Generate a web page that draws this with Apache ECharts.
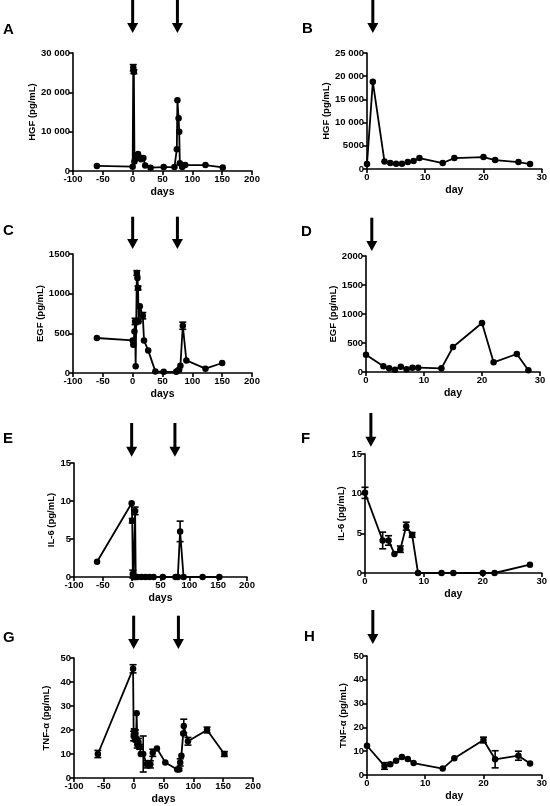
<!DOCTYPE html>
<html><head><meta charset="utf-8">
<script src="https://cdn.jsdelivr.net/npm/echarts@6/dist/echarts.min.js"></script>
<style>html,body{margin:0;padding:0;background:#fff}#c{width:550px;height:806px}</style>
</head><body><div id="c"></div>
<script>
// ---- Data ----
const daysA  = [-60, 0, 1, 2, 3, 5, 7, 9, 11, 14, 18, 21, 30, 52, 70, 74, 75, 77, 78, 79, 83, 88, 122, 151];
const hgfA   = [1300, 1100, 26250, 25250, 2400, 3200, 4000, 4300, 3500, 3000, 3300, 1400, 850, 1000, 1000, 5500, 18000, 13400, 10000, 2000, 1000, 1500, 1500, 900];
const hgfErrA= [0, 0, 800, 500, 0, 0, 0, 0, 0, 0, 0, 0, 0, 0, 0, 0, 0, 0, 0, 0, 0, 0, 0, 0];

const dayB   = [0, 1, 3, 4, 5, 6, 7, 8, 9, 13, 15, 20, 22, 26, 28];
const hgfB   = [1070, 18800, 1640, 1290, 1140, 1140, 1500, 1710, 2360, 1290, 2360, 2570, 1930, 1500, 1070];

const daysC  = [-60, 0, 1, 3, 4, 5, 7, 8, 9, 10, 12, 17, 19, 26, 38, 52, 73, 76, 78, 80, 84, 90, 122, 150];
const egfC   = [441, 411, 357, 524, 650, 84, 1260, 1197, 1071, 650, 840, 722, 411, 285, 20, 15, 15, 33, 42, 92, 596, 159, 55, 126];
const egfErrC= [0, 0, 0, 0, 40, 0, 30, 0, 25, 0, 0, 40, 0, 0, 0, 0, 0, 0, 0, 0, 45, 0, 0, 0];

const dayD   = [0, 3, 4, 5, 6, 7, 8, 9, 13, 15, 20, 22, 26, 28];
const egfD   = [299, 98, 63, 40, 92, 46, 75, 75, 63, 431, 845, 167, 310, 29];

const daysE  = [-60, 0, 1, 2, 3, 5, 6, 7, 10, 17, 24, 31, 38, 54, 76, 80, 84, 90, 123, 152];
const il6E   = [2, 9.7, 7.4, 0.4, 0, 0, 8.7, 0, 0, 0, 0, 0, 0, 0, 0, 0, 6, 0, 0, 0];
const il6ErrE= [0, 0, 0.3, 0.5, 0, 0, 0.5, 0, 0, 0, 0, 0, 0, 0, 0, 0, 1.35, 0, 0, 0];

const dayF   = [0, 3, 4, 5, 6, 7, 8, 9, 13, 15, 20, 22, 28];
const il6F   = [10.1, 4.1, 4.1, 2.4, 3.0, 5.9, 4.8, 0, 0, 0, 0, 0, 1.05];
const il6ErrF= [0.7, 1.05, 0.6, 0, 0.4, 0.5, 0.3, 0, 0, 0, 0, 0, 0];

const daysG  = [-60, -1, 0, 1, 2, 3, 4, 5, 6, 8, 10, 12, 16, 22, 28, 32, 39, 53, 73, 76, 78, 80, 83, 84, 91, 123, 152];
const tnfG   = [10, 45.5, 17.5, 19.5, 16.5, 18.5, 16, 27, 14, 15, 13, 10, 10, 5.7, 5.7, 10.5, 12.3, 6.5, 3.5, 3.5, 6.5, 9.3, 18.5, 21.7, 15.3, 20, 10];
const tnfErrG= [1.5, 1.7, 2, 1, 1, 1.5, 1, 0, 1.5, 1.5, 1, 0, 7.5, 1.5, 1.5, 1.5, 0, 0, 0, 0.5, 1.5, 0, 0, 2.8, 1.6, 1.2, 1];

const dayH   = [0, 3, 4, 5, 6, 7, 8, 13, 15, 20, 22, 26, 28];
const tnfH   = [12.3, 3.8, 4.5, 6, 7.6, 6.7, 5, 2.7, 7, 14.7, 6.6, 8.1, 4.8];
const tnfErrH= [0, 1.4, 0, 0, 0, 0, 0, 0, 0, 1.2, 3.6, 1.9, 0];

const arrowDaysLong  = [0, 75];
const arrowDaysShort = [1];

// ---- Panels ----
const panels = [
  {x: daysA, y: hgfA, e: hgfErrA, yName: 'HGF (pg/mL)', xName: 'days', xMin: -100, xMax: 200, xInt: 50, yMax: 30000, yInt: 10000, arrows: arrowDaysLong},
  {x: dayB,  y: hgfB, e: null,    yName: 'HGF (pg/mL)', xName: 'day',  xMin: 0, xMax: 30, xInt: 10, yMax: 25000, yInt: 5000, arrows: arrowDaysShort},
  {x: daysC, y: egfC, e: egfErrC, yName: 'EGF (pg/mL)', xName: 'days', xMin: -100, xMax: 200, xInt: 50, yMax: 1500, yInt: 500, arrows: arrowDaysLong},
  {x: dayD,  y: egfD, e: null,    yName: 'EGF (pg/mL)', xName: 'day',  xMin: 0, xMax: 30, xInt: 10, yMax: 2000, yInt: 500, arrows: arrowDaysShort},
  {x: daysE, y: il6E, e: il6ErrE, yName: 'IL-6 (pg/mL)', xName: 'days', xMin: -100, xMax: 200, xInt: 50, yMax: 15, yInt: 5, arrows: arrowDaysLong},
  {x: dayF,  y: il6F, e: il6ErrF, yName: 'IL-6 (pg/mL)', xName: 'day',  xMin: 0, xMax: 30, xInt: 10, yMax: 15, yInt: 5, arrows: arrowDaysShort},
  {x: daysG, y: tnfG, e: tnfErrG, yName: 'TNF-\u03b1 (pg/mL)', xName: 'days', xMin: -100, xMax: 200, xInt: 50, yMax: 50, yInt: 10, arrows: arrowDaysLong},
  {x: dayH,  y: tnfH, e: tnfErrH, yName: 'TNF-\u03b1 (pg/mL)', xName: 'day',  xMin: 0, xMax: 30, xInt: 10, yMax: 50, yInt: 10, arrows: arrowDaysShort}
];
const letters = ['A','B','C','D','E','F','G','H'];

// layout (pixels)
const layout = [
  {left:73,  top:53,  width:179, height:118, lx:3,   ly:30,  aTop:0,     aBot:33,    gapY:31},
  {left:367, top:53,  width:175, height:116, lx:302, ly:29,  aTop:0,     aBot:33,    gapY:33},
  {left:73,  top:254, width:179, height:119, lx:3,   ly:231, aTop:216.7, aBot:249,   gapY:23},
  {left:366, top:256, width:174, height:116, lx:301, ly:232, aTop:217.7, aBot:251,   gapY:27},
  {left:74,  top:463, width:173, height:114, lx:3,   ly:439, aTop:423,   aBot:456.7, gapY:14},
  {left:365, top:454, width:179, height:119, lx:301, ly:439, aTop:413,   aBot:446.7, gapY:19},
  {left:74,  top:658, width:179, height:120, lx:3,   ly:638, aTop:615.7, aBot:649,   gapY:23},
  {left:367, top:656, width:180, height:119, lx:304, ly:637, aTop:610,   aBot:644,   gapY:19}
];

const FONT = 'Arial, "Liberation Sans", Helvetica, sans-serif';
function fmtY(v){ return v >= 10000 ? String(v).replace(/(\d)(\d{3})$/, '$1 $2') : String(v); }

const grids = [], xAxes = [], yAxes = [], series = [];
panels.forEach((p, i) => {
  const L = layout[i];
  grids.push({left: L.left, top: L.top, width: L.width, height: L.height, containLabel: false});
  const axisCommon = {
    axisLine: {show: true, onZero: false, lineStyle: {color: '#000', width: 1.6}},
    axisTick: {show: true, inside: false, length: 4, lineStyle: {color: '#000', width: 1.6}},
    splitLine: {show: false},
    axisLabel: {color: '#000', fontSize: 9.5, fontWeight: 'bold', fontFamily: FONT, margin: 3, showMinLabel: true, showMaxLabel: true, hideOverlap: false},
    nameTextStyle: {color: '#000', fontWeight: 'bold', fontFamily: FONT}
  };
  xAxes.push(Object.assign({}, axisCommon, {
    type: 'value', gridIndex: i, min: p.xMin, max: p.xMax, interval: p.xInt,
    name: p.xName, nameLocation: 'middle', nameGap: 16,
    nameTextStyle: {color: '#000', fontWeight: 'bold', fontFamily: FONT, fontSize: 10.5}
  }));
  yAxes.push(Object.assign({}, axisCommon, {
    type: 'value', gridIndex: i, min: 0, max: p.yMax, interval: p.yInt,
    name: p.yName, nameLocation: 'middle', nameRotate: 90, nameGap: L.gapY,
    nameTextStyle: {color: '#000', fontWeight: 'bold', fontFamily: FONT, fontSize: 9.5},
    axisLabel: Object.assign({}, axisCommon.axisLabel, {formatter: fmtY})
  }));
  series.push({
    type: 'line', xAxisIndex: i, yAxisIndex: i,
    data: p.x.map((d, k) => [d, p.y[k]]),
    symbol: 'circle', symbolSize: 6.5, showSymbol: true,
    itemStyle: {color: '#000'}, lineStyle: {color: '#000', width: 1.8},
    clip: false, animation: false, z: 3
  });
  if (p.e) {
    const eb = [];
    p.x.forEach((d, k) => { if (p.e[k] > 0) eb.push([d, p.y[k] - p.e[k], p.y[k] + p.e[k]]); });
    series.push({
      type: 'custom', xAxisIndex: i, yAxisIndex: i, data: eb, animation: false, z: 4,
      encode: {x: 0, y: [1, 2]},
      renderItem: function (params, api) {
        const x = api.value(0);
        const lo = api.coord([x, api.value(1)]);
        const hi = api.coord([x, api.value(2)]);
        const w = 3.5;
        const st = {stroke: '#000', lineWidth: 1.6};
        return {type: 'group', children: [
          {type: 'line', shape: {x1: lo[0], y1: lo[1], x2: hi[0], y2: hi[1]}, style: st},
          {type: 'line', shape: {x1: hi[0] - w, y1: hi[1], x2: hi[0] + w, y2: hi[1]}, style: st},
          {type: 'line', shape: {x1: lo[0] - w, y1: lo[1], x2: lo[0] + w, y2: lo[1]}, style: st}
        ]};
      }
    });
  }
});

const chart = echarts.init(document.getElementById('c'), null, {renderer: 'canvas'});
chart.setOption({
  animation: false, backgroundColor: '#fff',
  grid: grids, xAxis: xAxes, yAxis: yAxes, series: series
});

// annotations: panel letters and arrows (x from the axis scale)
const graphics = [];
panels.forEach((p, i) => {
  const L = layout[i];
  graphics.push({type: 'text', left: L.lx, top: L.ly - 8, style: {text: letters[i], fill: '#000', font: 'bold 15px ' + FONT}});
  p.arrows.forEach(d => {
    const px = chart.convertToPixel({xAxisIndex: i}, d);
    const headH = 10, headW = 11;
    graphics.push({type: 'rect', shape: {x: px - 1.5, y: L.aTop, width: 3, height: L.aBot - L.aTop - headH + 1}, style: {fill: '#000'}});
    graphics.push({type: 'polygon', shape: {points: [[px - headW / 2, L.aBot - headH], [px + headW / 2, L.aBot - headH], [px, L.aBot]]}, style: {fill: '#000'}});
  });
});
chart.setOption({graphic: graphics});
</script>
</body></html>
